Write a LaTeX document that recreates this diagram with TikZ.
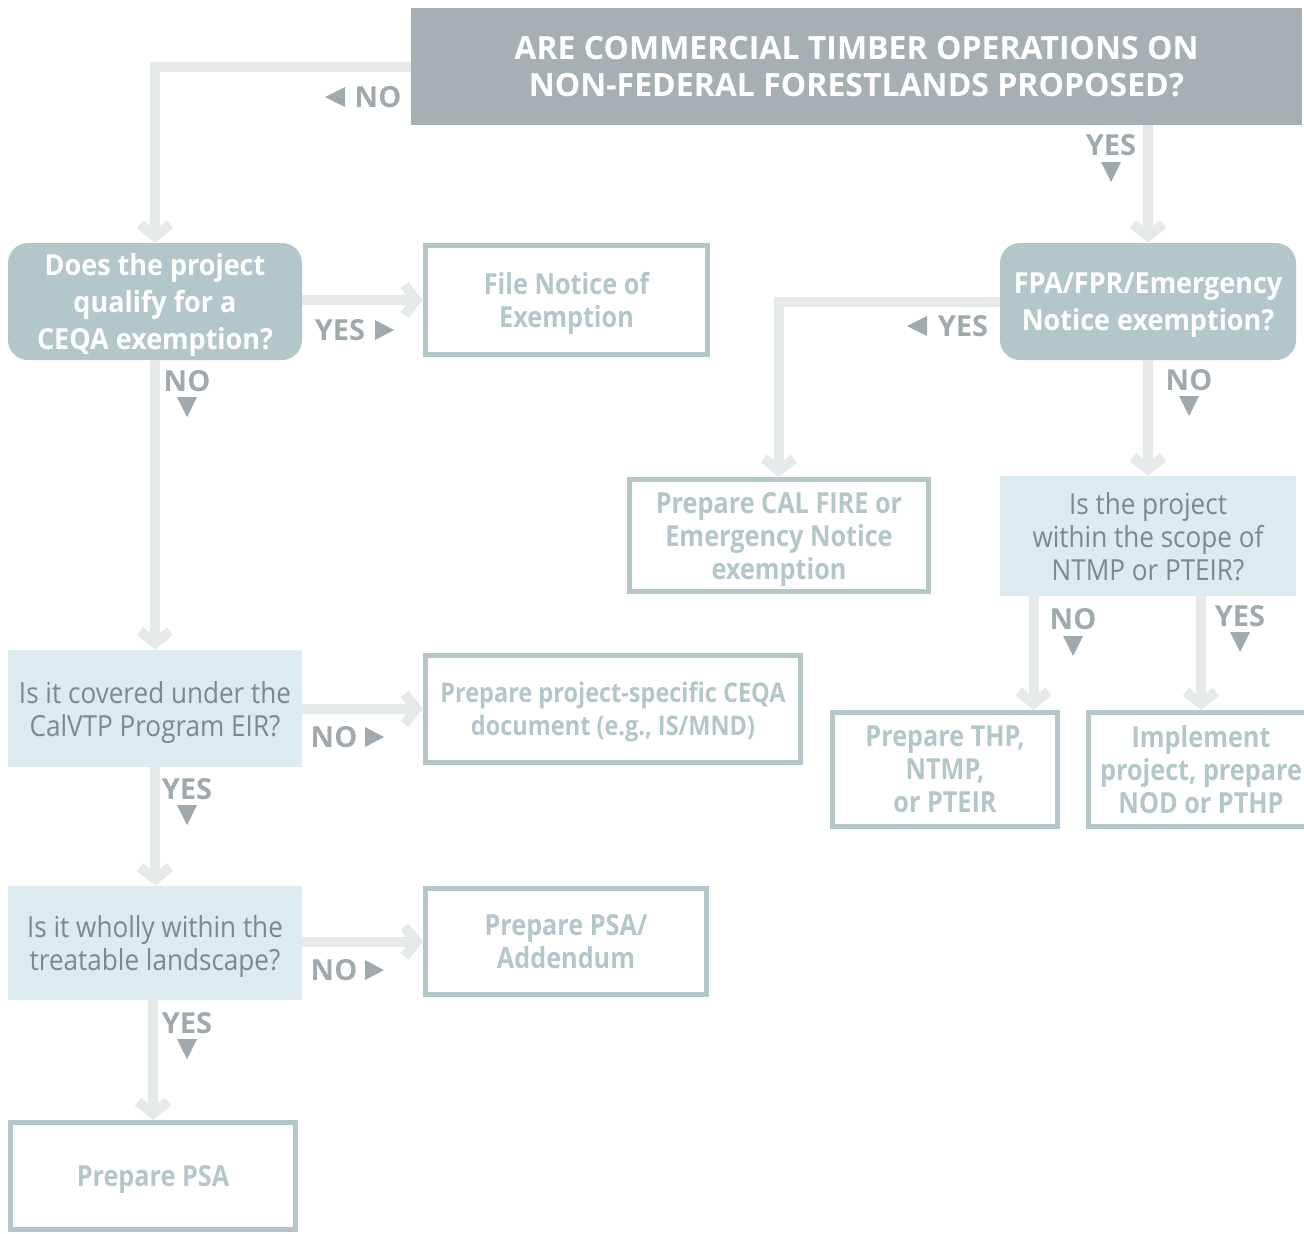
\documentclass[tikz,border=0pt]{standalone}
\usepackage{fontspec}
\setmainfont{Open Sans}
\newfontfamily\qfont{Open Sans}[FakeStretch=0.93]
\newfontfamily\lfont{Open Sans}[FakeStretch=0.9]
\newfontfamily\ofont{Open Sans}[FakeStretch=0.87]
\usetikzlibrary{arrows.meta}
\usetikzlibrary{calc}
\definecolor{linegrey}{RGB}{229,233,234}
\definecolor{lblgrey}{RGB}{160,170,174}
\definecolor{titlegrey}{RGB}{166,176,180}
\definecolor{qteal}{RGB}{179,198,202}
\definecolor{qlight}{RGB}{220,235,239}
\definecolor{qtext}{RGB}{128,135,138}
\tikzstyle{conn}=[draw=linegrey,line width=5pt,-{Straight Barb[length=6pt,width=15pt]}]
\tikzstyle{titlebox}=[fill=titlegrey,text=white,inner sep=0pt,align=center,font=\bfseries\fontsize{16}{18.5}\selectfont]
\tikzstyle{roundq}=[fill=qteal,text=white,rounded corners=10pt,inner sep=0pt,text depth=0pt,align=center,font=\qfont\bfseries\fontsize{14.5}{18.5}\selectfont]
\tikzstyle{lightq}=[fill=qlight,text=qtext,inner sep=0pt,text depth=0pt,align=center,font=\lfont\fontsize{14.5}{16.5}\selectfont]
\tikzstyle{outbox}=[draw=qteal,line width=2.5pt,fill=white,text=qteal,inner sep=0pt,text depth=0pt,align=center,font=\ofont\bfseries\fontsize{14.5}{16.5}\selectfont]
\tikzstyle{lbl}=[text=lblgrey,inner sep=0pt,font=\bfseries\fontsize{14.5}{16}\selectfont]

\begin{document}
\begin{tikzpicture}[x=0.5pt,y=-0.5pt]
  \useasboundingbox (0,0) rectangle (1304,1233);

  % boxes
  \node[titlebox,minimum width=445.5pt,minimum height=58.5pt] (title) at (856.5,66.5)
    {ARE COMMERCIAL TIMBER OPERATIONS ON\\NON-FEDERAL FORESTLANDS PROPOSED?};
  \node[roundq,minimum width=147pt,minimum height=58.5pt] (does) at (155,301.5)
    {Does the project\\qualify for a\\CEQA exemption?};
  \node[outbox,minimum width=141pt,minimum height=54.5pt] (filenotice) at (566.5,300)
    {File Notice of\\Exemption};
  \node[roundq,minimum width=148pt,minimum height=58.5pt] (fpa) at (1148,301.5)
    {FPA/FPR/Emergency\\Notice exemption?};
  \node[outbox,minimum width=149.5pt,minimum height=56pt] (calfire) at (779,535.5)
    {Prepare CAL FIRE or\\Emergency Notice\\exemption};
  \node[lightq,minimum width=148pt,minimum height=60pt] (scope) at (1148,536)
    {Is the project\\within the scope of\\NTMP or PTEIR?};
  \node[outbox,minimum width=112.5pt,minimum height=57pt] (thp) at (945,769.5)
    {Prepare THP,\\NTMP,\\or PTEIR};
  \node[outbox,minimum width=112.5pt,minimum height=57pt] (impl) at (1201,769.5)
    {Implement\\project, prepare\\NOD or PTHP};
  \node[lightq,minimum width=147pt,minimum height=58.5pt] (calvtp) at (155,708.5)
    {Is it covered under the\\CalVTP Program EIR?};
  \node[outbox,minimum width=187.5pt,minimum height=53.5pt,font=\ofont\bfseries\fontsize{13.5}{16.5}\selectfont] (specific) at (613,709)
    {Prepare project-specific CEQA\\document (e.g., IS/MND)};
  \node[lightq,minimum width=147pt,minimum height=57pt] (wholly) at (155,943)
    {Is it wholly within the\\treatable landscape?};
  \node[outbox,minimum width=140.5pt,minimum height=53pt] (addendum) at (566,941.5)
    {Prepare PSA/\\Addendum};
  \node[outbox,minimum width=142.5pt,minimum height=53.5pt] (psa) at (153,1176)
    {Prepare PSA};

  % connectors
  \draw[conn] (title.west) -| (does.north);
  \draw[conn] (title.south -| fpa.north) -- (fpa.north);
  \draw[conn] (does.east |- filenotice.west) -- (filenotice.west);
  \draw[conn] (fpa.west) -| (calfire.north);
  \draw[conn] (fpa.south) -- (scope.north);
  \draw[conn] ([xshift=17pt]scope.south west) -- ([xshift=17pt]scope.south west |- thp.north);
  \draw[conn] (scope.south -| impl.north) -- (impl.north);
  \draw[conn] (does.south) -- (calvtp.north);
  \draw[conn] (calvtp.east |- specific.west) -- (specific.west);
  \draw[conn] (calvtp.south) -- (wholly.north);
  \draw[conn] (wholly.east |- addendum.west) -- (addendum.west);
  \draw[conn] (wholly.south -| psa.north) -- (psa.north);

  % yes / no labels
  \node[lbl] (no1) at (378,97) {NO};
  \fill[lblgrey] (325,97) -- (345,87) -- (345,107) -- cycle;
  \node[lbl] (yes1) at (1111,145) {YES};
  \fill[lblgrey] (1101,162) -- (1121,162) -- (1111,182) -- cycle;
  \node[lbl] (yes2) at (340,330) {YES};
  \fill[lblgrey] (375,320) -- (375,340) -- (394,330) -- cycle;
  \node[lbl] (no2) at (187,381) {NO};
  \fill[lblgrey] (177,397) -- (197,397) -- (187,417) -- cycle;
  \node[lbl] (yes3) at (963,326) {YES};
  \fill[lblgrey] (907,326) -- (927,316) -- (927,336) -- cycle;
  \node[lbl] (no3) at (1189,380) {NO};
  \fill[lblgrey] (1179,396) -- (1199,396) -- (1189,416) -- cycle;
  \node[lbl] (no4) at (1073,619) {NO};
  \fill[lblgrey] (1063,636) -- (1083,636) -- (1073,656) -- cycle;
  \node[lbl] (yes4) at (1240,616) {YES};
  \fill[lblgrey] (1230,632) -- (1250,632) -- (1240,652) -- cycle;
  \node[lbl] (no5) at (334,737) {NO};
  \fill[lblgrey] (365,727) -- (365,747) -- (384,737) -- cycle;
  \node[lbl] (yes5) at (187,789) {YES};
  \fill[lblgrey] (177,805) -- (197,805) -- (187,825) -- cycle;
  \node[lbl] (no6) at (334,970) {NO};
  \fill[lblgrey] (365,960) -- (365,980) -- (384,970) -- cycle;
  \node[lbl] (yes6) at (187,1023) {YES};
  \fill[lblgrey] (177,1039) -- (197,1039) -- (187,1059) -- cycle;
\end{tikzpicture}
\end{document}
